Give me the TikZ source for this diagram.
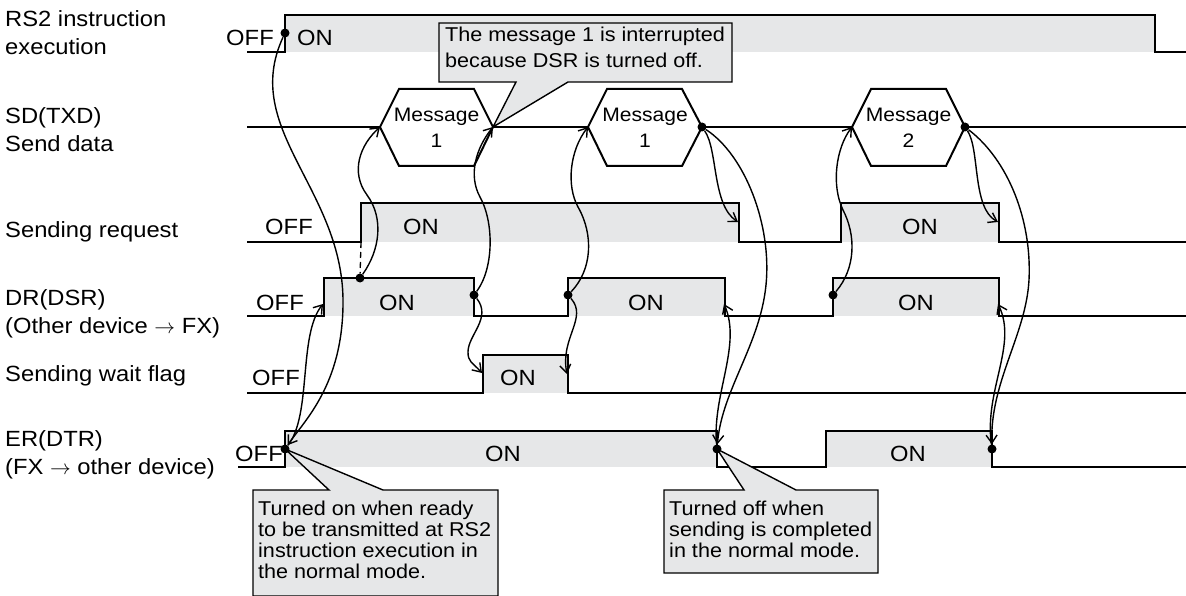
\documentclass[tikz,border=0pt]{standalone}
\usepackage{fontspec}
\setmainfont{Liberation Sans}[FakeStretch=1.08]
\usetikzlibrary{arrows.meta}
\definecolor{gfill}{RGB}{230,231,232}
\begin{document}
\begin{tikzpicture}[x=1pt,y=-1pt,
  sig/.style={line width=2pt,line join=miter},
  onfill/.style={fill=gfill},
  conn/.style={line width=1.4pt,-{Straight Barb[length=8pt,width=11pt]}},
  lab/.style={anchor=base west,inner sep=0,font=\fontsize{22}{26}\selectfont},
  st/.style={anchor=base,inner sep=0,font=\fontsize{22}{26}\selectfont},
  msg/.style={anchor=base,inner sep=0,font=\fontsize{19.5}{23}\selectfont},
  ntext/.style={anchor=base west,inner sep=0,font=\fontsize{20}{23}\selectfont},
  dotc/.style={circle,fill=black,inner sep=0,minimum size=9pt},
  cbox/.style={draw,line width=1.4pt,fill=gfill,line join=miter}
]
\useasboundingbox (0,0) rectangle (1186,596);

% ---- left labels
\node[lab] (l1a) at (5,27) {RS2 instruction};
\node[lab] (l1b) at (5,55) {execution};
\node[lab] (l2a) at (5,124) {SD(TXD)};
\node[lab] (l2b) at (5,152) {Send data};
\node[lab] (l3) at (5,237) {Sending request};
\node[lab] (l4a) at (5,305) {DR(DSR)};
\node[lab] (l4b) at (5,333) {(Other device $\rightarrow$ FX)};
\node[lab] (l5) at (5,381) {Sending wait flag};
\node[lab] (l6a) at (5,446) {ER(DTR)};
\node[lab] (l6b) at (5,474) {(FX $\rightarrow$ other device)};

% ---- RS2 instruction execution
\fill[onfill] (285,15) rectangle (1155,52);
\draw[sig] (247,52) -- (285,52) -- (285,15) -- (1155,15) -- (1155,52) -- (1186,52);
\node[st] (r1off) at (250,46) {OFF};
\node[st] (r1on) at (315,46) {ON};

% ---- SD(TXD)
\coordinate (h1L) at (380,127); \coordinate (h1R) at (493,127);
\coordinate (h2L) at (588,127); \coordinate (h2R) at (702,127);
\coordinate (h3L) at (852,127); \coordinate (h3R) at (965,127);
\draw[sig] (247,127) -- (h1L);
\draw[sig] (h1R) -- (h2L);
\draw[sig] (h2R) -- (h3L);
\draw[sig] (h3R) -- (1186,127);
\draw[sig] (h1L) -- (399,89) -- (474,89) -- (h1R) -- (474,166) -- (399,166) -- cycle;
\draw[sig] (h2L) -- (607,89) -- (682,89) -- (h2R) -- (682,166) -- (607,166) -- cycle;
\draw[sig] (h3L) -- (871,89) -- (946,89) -- (h3R) -- (946,166) -- (871,166) -- cycle;
\node[msg] (m1a) at (436.5,122) {Message};
\node[msg] (m1b) at (436.5,148) {1};
\node[msg] (m2a) at (645,122) {Message};
\node[msg] (m2b) at (645,148) {1};
\node[msg] (m3a) at (908.5,122) {Message};
\node[msg] (m3b) at (908.5,148) {2};

% ---- Sending request
\fill[onfill] (361,203) rectangle (739,242);
\fill[onfill] (841,203) rectangle (999,242);
\draw[sig] (247,242) -- (361,242) -- (361,203) -- (739,203) -- (739,242) -- (841,242) -- (841,203) -- (999,203) -- (999,242) -- (1186,242);
\node[st] (r3off) at (289,235) {OFF};
\node[st] (r3on1) at (421,235) {ON};
\node[st] (r3on2) at (920,235) {ON};
\coordinate (sR1) at (361,242);
\coordinate (sF1) at (738,222);
\coordinate (sF2) at (998,222);

% ---- DR(DSR)
\fill[onfill] (324,278) rectangle (474,316);
\fill[onfill] (568,278) rectangle (725,316);
\fill[onfill] (833,278) rectangle (999,316);
\draw[sig] (247,316) -- (324,316) -- (324,278) -- (474,278) -- (474,316) -- (568,316) -- (568,278) -- (725,278) -- (725,316) -- (833,316) -- (833,278) -- (999,278) -- (999,316) -- (1186,316);
\node[st] (r4off) at (280,310) {OFF};
\node[st] (r4on1) at (397,310) {ON};
\node[st] (r4on2) at (646,310) {ON};
\node[st] (r4on3) at (916,310) {ON};
\coordinate (d1r) at (323,304);
\coordinate (dF2) at (724,304);
\coordinate (dF3) at (998,304);

% ---- Sending wait flag
\fill[onfill] (483,355) rectangle (568,393);
\draw[sig] (247,393) -- (483,393) -- (483,355) -- (568,355) -- (568,393) -- (1186,393);
\node[st] (r5off) at (276,385) {OFF};
\node[st] (r5on) at (518,385) {ON};
\coordinate (wR) at (482,373);
\coordinate (wF) at (567,374);

% ---- ER(DTR)
\fill[onfill] (285,431) rectangle (717,467);
\fill[onfill] (826,431) rectangle (992,467);
\draw[sig] (238,467) -- (285,467) -- (285,431) -- (717,431) -- (717,467) -- (826,467) -- (826,431) -- (992,431) -- (992,467) -- (1186,467);
\node[st] (r6off) at (259,461) {OFF};
\node[st] (r6on1) at (503,461) {ON};
\node[st] (r6on2) at (908,461) {ON};

% ---- callouts
\draw[cbox] (439,23) -- (732,23) -- (732,82) -- (568,82) -- (h1R) -- (516,82) -- (439,82) -- cycle;
\node[ntext] (n1a) at (445,42) {The message 1 is interrupted};
\node[ntext] (n1b) at (445,68) {because DSR is turned off.};

\coordinate (e1) at (285,449);
\coordinate (e2) at (717,449);
\draw[cbox] (253,490) -- (329,490) -- (e1) -- (383,490) -- (498,490) -- (498,596) -- (253,596) -- cycle;
\node[ntext] (n2a) at (258,515) {Turned on when ready};
\node[ntext] (n2b) at (258,536) {to be transmitted at RS2};
\node[ntext] (n2c) at (258,557) {instruction execution in};
\node[ntext] (n2d) at (258,578) {the normal mode.};

\draw[cbox] (664,490) -- (744,490) -- (e2) -- (796,490) -- (878,490) -- (878,573) -- (664,573) -- cycle;
\node[ntext] (n3a) at (669,515) {Turned off when};
\node[ntext] (n3b) at (669,536) {sending is completed};
\node[ntext] (n3c) at (669,557) {in the normal mode.};

% ---- dots
\node[dotc] (rsdot) at (285,33) {};
\node[dotc] (drdot1) at (360,278) {};
\node[dotc] (drdot2) at (474,295) {};
\node[dotc] (drdot3) at (568,295) {};
\node[dotc] (drdot4) at (833,295) {};
\node[dotc] (h2dot) at (h2R) {};
\node[dotc] (h3dot) at (h3R) {};
\node[dotc] (erdot1) at (e1) {};
\node[dotc] (erdot2) at (e2) {};
\node[dotc] (erdot3) at (992,449) {};

% ---- connectors
\draw[line width=1.3pt,dash pattern=on 6pt off 4pt] (sR1) -- (drdot1);
\draw[conn] (rsdot) .. controls (240,130) and (345,190) .. (343,305) .. controls (342,385) and (305,420) .. (erdot1);
\draw[conn] (erdot1) .. controls (312,415) and (298,335) .. (d1r);
\draw[conn] (drdot1) .. controls (380,250) and (384,218) .. (367,195) .. controls (350,172) and (360,145) .. (h1L);
\draw[conn] (drdot2) .. controls (494,268) and (494,222) .. (480,197) .. controls (468,175) and (476,148) .. (h1R);
\draw[conn] (drdot2) .. controls (492,318) and (468,335) .. (468,352) .. controls (468,362) and (472,362) .. (wR);
\draw[conn] (drdot3) .. controls (592,270) and (594,235) .. (578,207) .. controls (566,185) and (570,150) .. (h2L);
\draw[conn] (drdot3) .. controls (588,318) and (560,338) .. (wF);
\draw[conn] (h2dot) .. controls (718,150) and (712,205) .. (sF1);
\draw[conn] (h2dot) .. controls (745,155) and (772,225) .. (766,285) .. controls (760,345) and (722,390) .. (erdot2);
\draw[conn] (erdot2) .. controls (712,395) and (742,345) .. (dF2);
\draw[conn] (drdot4) .. controls (856,268) and (856,235) .. (843,210) .. controls (831,185) and (836,148) .. (h3L);
\draw[conn] (h3dot) .. controls (980,150) and (972,208) .. (sF2);
\draw[conn] (h3dot) .. controls (1008,160) and (1032,220) .. (1029,280) .. controls (1026,335) and (990,382) .. (erdot3);
\draw[conn] (erdot3) .. controls (984,390) and (1018,345) .. (dF3);
\end{tikzpicture}
\end{document}
